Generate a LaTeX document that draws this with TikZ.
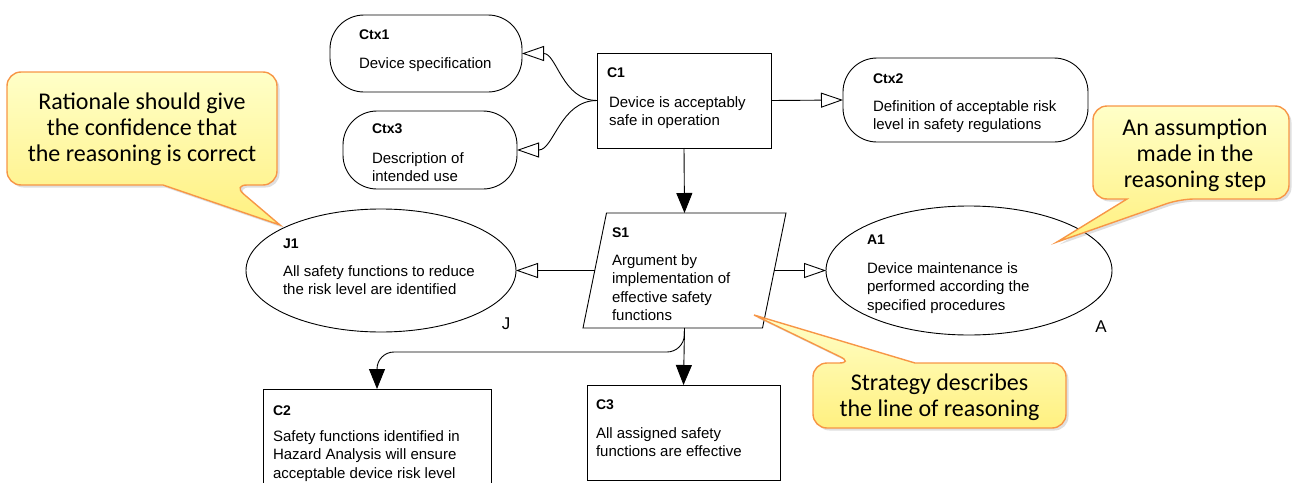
\documentclass[tikz,border=0pt]{standalone}
\usepackage{fontspec}
\setmainfont{Liberation Sans}
\newfontfamily\calloutfont{Carlito}
\usetikzlibrary{arrows.meta,shapes.geometric,shadows}

\definecolor{calloutline}{HTML}{F79646}
\definecolor{callouttop}{HTML}{FFFFC8}
\definecolor{calloutbottom}{HTML}{FFF080}

\begin{document}
\begin{tikzpicture}[x=1pt,y=-1pt,line width=0.9pt,
  every node/.style={inner sep=0pt,outer sep=0pt},
  goalbox/.style={draw,fill=white,rectangle},
  ctxbox/.style={draw,fill=white,rectangle,rounded corners=34pt},
  ovalnode/.style={draw,fill=white,ellipse},
  idlabel/.style={anchor=base west,font=\fontsize{14}{18.5}\selectfont\bfseries},
  % multi-line texts are placed by the baseline of their last line
  bodytext/.style={anchor=base west,align=left,font=\fontsize{15}{18.5}\selectfont},
  cornermark/.style={font=\fontsize{17}{20}\selectfont},
  solidarrow/.style={-{Triangle[length=20pt,width=16pt]}},
  openarrow/.style={-{Triangle[open,length=22pt,width=15pt]}},
  balloon/.style={draw=calloutline,line width=1.4pt,top color=callouttop,bottom color=calloutbottom,
    drop shadow={opacity=0.25,shadow xshift=2.5pt,shadow yshift=-2.5pt}},
  balloontext/.style={align=center,font=\calloutfont\fontsize{24}{26}\selectfont}]

\useasboundingbox (0,0) rectangle (1296,482);
\clip (0,0) rectangle (1296,482);

% ---------- GSN elements ----------
\node[ctxbox,minimum width=192pt,minimum height=77pt] (ctx1) at (426,53.5) {};
\node[idlabel] (ctx1id) at (359,39) {Ctx1};
\node[bodytext] (ctx1tx) at (359,68) {Device specification};

\node[ctxbox,minimum width=174pt,minimum height=78pt] (ctx3) at (430,150) {};
\node[idlabel] (ctx3id) at (372,133) {Ctx3};
\node[bodytext] (ctx3tx) at (372,181.5) {Description of\\intended use};

\node[goalbox,minimum width=174pt,minimum height=95pt] (c1) at (684,100.5) {};
\node[idlabel] (c1id) at (607,77) {C1};
\node[bodytext] (c1tx) at (609,125.5) {Device is acceptably\\safe in operation};

\node[ctxbox,minimum width=245pt,minimum height=84pt] (ctx2) at (965.5,100) {};
\node[idlabel] (ctx2id) at (873,83) {Ctx2};
\node[bodytext] (ctx2tx) at (873,129.5) {Definition of acceptable risk\\level in safety regulations};

% strategy: a parallelogram drawn inside an invisible frame node
\node[rectangle,minimum width=203pt,minimum height=115pt] (s1) at (684.5,270.5) {};
\draw[fill=white] ([xshift=23.5pt]s1.north west) -- (s1.north east)
  -- ([xshift=-23.5pt]s1.south east) -- (s1.south west) -- cycle;
\node[idlabel] (s1id) at (612,237) {S1};
\node[bodytext] (s1tx) at (612,320.5) {Argument by\\implementation of\\effective safety\\functions};

\node[ovalnode,minimum width=270pt,minimum height=123pt] (j1) at (381,270.5) {};
\node[idlabel] (j1id) at (283,248) {J1};
\node[bodytext] (j1tx) at (283,294.5) {All safety functions to reduce\\the risk level are identified};
\node[cornermark] (jmark) at (506,324) {J};

\node[ovalnode,minimum width=286pt,minimum height=129pt] (a1) at (969,270.5) {};
\node[idlabel] (a1id) at (867,244) {A1};
\node[bodytext] (a1tx) at (867,310) {Device maintenance is\\performed according the\\specified procedures};
\node[cornermark] (amark) at (1101,327) {A};

\node[goalbox,minimum width=228pt,minimum height=106pt] (c2) at (377,442) {};
\node[idlabel] (c2id) at (273,415) {C2};
\node[bodytext] (c2tx) at (273,478) {Safety functions identified in\\Hazard Analysis will ensure\\acceptable device risk level};

\node[goalbox,minimum width=193pt,minimum height=95pt] (c3) at (683.5,432.5) {};
\node[idlabel] (c3id) at (596,409) {C3};
\node[bodytext] (c3tx) at (596,456.5) {All assigned safety\\functions are effective};

% ---------- connectors ----------
\draw[openarrow] (c1.west) to[out=180,in=0] (ctx1.east);
\draw[openarrow] (c1.west) to[out=180,in=0] (ctx3.east);
\draw[openarrow] (c1.east) -- (ctx2.west);
\draw[solidarrow] (c1.south) -- (s1.north);
\draw[openarrow] ([xshift=11.75pt]s1.west) -- (j1.east);
\draw[openarrow] ([xshift=-11.75pt]s1.east) -- (a1.west);
\draw[solidarrow] (s1.south) -- (c3.north);
\coordinate (fork) at (684,352);
\draw[solidarrow,rounded corners=17pt] (s1.south) -- (fork) -| (c2.north);

% ---------- callouts ----------
\path[balloon] (7,130) [rounded corners=14pt] -- (7,72) -- (277,72) -- (277,185) -- (233,185)
  [sharp corners] -- (280,225) -- (163,185) [rounded corners=14pt] -- (7,185) -- cycle;
\node[balloontext] (rationale) at (142,129) {Rationale should give\\the confidence that\\the reasoning is correct};

\path[balloon] (1093,150) [rounded corners=14pt] -- (1093,106) -- (1289,106) -- (1289,199) -- (1180,199)
  [sharp corners] -- (1057,242) -- (1127,199) [rounded corners=14pt] -- (1093,199) -- cycle;
\node[balloontext] (assumption) at (1195,155) {An assumption\\made in the\\reasoning step};

\path[balloon] (813,400) [rounded corners=14pt] -- (813,363) -- (853,363)
  [sharp corners] -- (754,315) -- (915,363) [rounded corners=14pt] -- (1066,363) -- (1066,428) -- (813,428) -- cycle;
\node[balloontext] (strategy) at (939.5,397) {Strategy describes\\the line of reasoning};

\end{tikzpicture}
\end{document}
